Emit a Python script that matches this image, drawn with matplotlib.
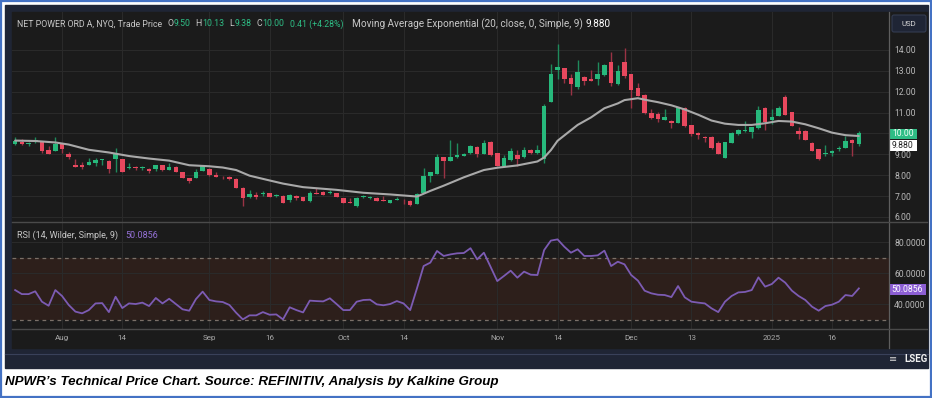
import matplotlib
matplotlib.use('Agg')
import matplotlib.pyplot as plt
from matplotlib.patches import Rectangle, FancyBboxPatch
import numpy as np

# ---------------- data ----------------
opens = [9.48, 9.61, 9.50, 9.58, 9.62, 9.21, 9.15, 9.50, 9.00, 8.51,
         8.51, 8.51, 8.57, 8.73, 8.70, 8.79, 8.76, 8.36, 8.38, 8.36,
         8.31, 8.28, 8.47, 8.25, 8.41, 8.14, 7.87, 7.87, 8.20, 8.31,
         8.01, 7.97, 7.93, 7.84, 7.40, 6.94, 7.07, 7.10, 7.15, 6.99,
         7.01, 6.81, 6.99, 6.94, 6.75, 7.13, 7.21, 7.17, 7.13, 6.91,
         6.74, 6.51, 6.94, 6.89, 6.91, 6.83, 6.67, 6.80, 6.82, 6.78,
         6.62, 7.16, 7.96, 8.06, 8.86, 8.68, 8.89, 8.94, 9.05, 9.35,
         9.02, 9.61, 9.05, 8.46, 8.73, 8.99, 8.86, 9.23, 9.05, 8.76,
         11.53, 13.04, 13.12, 12.68, 12.24, 12.72, 12.59, 12.63, 12.80, 13.41,
         12.36, 13.41, 12.85, 12.16, 11.84, 10.97, 10.92, 10.65, 10.61, 10.52,
         11.22, 10.39, 10.01, 9.85, 9.85, 9.53, 8.84, 9.56, 9.96, 10.14,
         10.09, 10.25, 11.24, 10.65, 10.85, 11.73, 11.01, 10.14, 10.14, 9.56,
         9.24, 9.02, 9.08, 9.26, 9.32, 9.69, 9.50]
highs = [9.82, 9.75, 9.59, 9.82, 9.64, 9.40, 9.82, 9.56, 9.10, 8.76,
         8.65, 8.84, 8.81, 8.76, 8.72, 9.32, 8.78, 8.57, 8.46, 8.44,
         8.34, 8.49, 8.49, 8.60, 8.43, 8.16, 7.89, 8.28, 8.49, 8.33,
         8.17, 7.98, 7.95, 7.86, 7.42, 7.29, 7.21, 7.25, 7.17, 7.08,
         7.03, 7.10, 7.05, 6.96, 7.23, 7.37, 7.23, 7.29, 7.15, 6.93,
         6.89, 6.96, 7.05, 7.00, 6.94, 7.02, 6.83, 6.94, 6.85, 6.80,
         7.14, 8.35, 8.16, 9.02, 8.88, 9.69, 9.56, 9.05, 9.45, 9.40,
         9.69, 9.63, 9.07, 8.97, 9.29, 9.21, 9.37, 9.26, 9.45, 11.41,
         13.31, 14.29, 13.14, 12.85, 13.52, 12.76, 13.04, 13.44, 13.31, 13.89,
         13.28, 14.08, 12.87, 12.43, 11.89, 11.16, 11.05, 11.17, 10.63, 11.28,
         11.27, 10.41, 10.09, 9.88, 9.88, 9.66, 9.61, 10.09, 10.20, 10.60,
         10.33, 11.32, 11.27, 11.16, 11.32, 11.84, 11.05, 10.33, 10.16, 9.61,
         9.27, 9.45, 9.21, 9.40, 9.88, 9.72, 10.13]
lows = [9.47, 9.46, 9.40, 9.56, 9.05, 9.02, 9.14, 9.08, 8.76, 8.38,
        8.32, 8.49, 8.46, 8.49, 8.12, 8.17, 8.14, 8.28, 8.25, 8.27,
        8.12, 8.20, 8.22, 8.24, 8.14, 7.85, 7.64, 7.85, 8.18, 7.97,
        7.90, 7.80, 7.79, 7.37, 6.54, 6.92, 6.85, 7.02, 6.95, 6.97,
        6.67, 6.74, 6.80, 6.75, 6.73, 7.08, 7.03, 7.09, 6.95, 6.67,
        6.68, 6.50, 6.92, 6.86, 6.76, 6.77, 6.65, 6.79, 6.62, 6.54,
        6.60, 7.14, 7.69, 8.04, 7.88, 8.66, 8.81, 8.92, 9.02, 8.86,
        9.00, 8.93, 8.42, 8.40, 8.70, 8.44, 8.84, 9.02, 9.00, 8.60,
        11.50, 12.60, 12.40, 11.85, 12.11, 12.32, 12.50, 12.32, 12.76, 12.28,
        12.34, 12.64, 11.21, 11.78, 10.95, 10.68, 10.55, 10.63, 10.25, 10.50,
        10.33, 9.88, 9.72, 9.61, 9.24, 9.00, 8.82, 9.53, 9.94, 10.09,
        9.77, 10.23, 10.17, 10.45, 10.83, 10.87, 10.36, 9.72, 9.67, 9.15,
        8.74, 8.92, 8.92, 9.18, 9.30, 8.92, 9.38]
closes = [9.64, 9.48, 9.52, 9.70, 9.18, 9.03, 9.51, 9.27, 8.86, 8.40,
          8.38, 8.62, 8.73, 8.76, 8.28, 9.02, 8.16, 8.38, 8.33, 8.38,
          8.19, 8.47, 8.24, 8.41, 8.16, 7.87, 7.71, 8.14, 8.43, 7.99,
          7.93, 7.95, 7.81, 7.39, 6.91, 7.10, 6.94, 7.13, 6.97, 7.05,
          6.69, 7.07, 6.91, 6.77, 7.13, 7.09, 7.05, 7.21, 6.97, 6.69,
          6.69, 6.91, 7.02, 6.97, 6.78, 6.78, 6.81, 6.88, 6.80, 6.56,
          7.10, 7.96, 8.14, 8.89, 8.70, 8.89, 8.99, 9.02, 9.40, 9.02,
          9.56, 8.95, 8.44, 8.84, 9.16, 8.79, 9.21, 9.05, 9.21, 11.32,
          12.83, 13.20, 12.61, 12.37, 12.93, 12.53, 12.51, 12.85, 13.28, 12.40,
          12.99, 12.77, 12.08, 11.80, 10.97, 10.73, 10.68, 10.81, 10.49, 11.25,
          10.37, 9.96, 9.93, 9.77, 9.29, 9.02, 9.59, 10.01, 10.17, 10.18,
          10.31, 11.13, 10.55, 10.77, 11.22, 10.89, 10.38, 9.98, 9.69, 9.18,
          8.76, 9.08, 9.15, 9.32, 9.64, 9.56, 10.00]

ema_idx = [0, 3, 6, 8, 11, 14, 17, 20, 23, 26, 29, 31, 33, 35, 38, 40, 43, 48, 52, 56,
           60, 62, 64, 67, 70, 72, 75, 78, 79, 80, 81, 84, 86, 88, 90, 91, 93, 94, 96, 98,
           100, 102, 104, 106, 108, 110, 112, 114, 116, 118, 120, 122, 124, 126]
ema_val = [9.66, 9.64, 9.57, 9.47, 9.22, 9.09, 8.92, 8.80, 8.70, 8.48, 8.43, 8.37, 8.25, 7.98,
           7.75, 7.60, 7.43, 7.30, 7.16, 7.08, 6.98, 7.25, 7.50, 7.90, 8.25, 8.36, 8.47, 8.66,
           8.85, 9.20, 9.65, 10.41, 10.77, 11.21, 11.44, 11.60, 11.69, 11.62, 11.50, 11.35,
           11.15, 10.90, 10.62, 10.47, 10.41, 10.41, 10.49, 10.60, 10.57, 10.44, 10.25, 10.04,
           9.92, 9.88]

rsi = [49.0, 46.4, 46.4, 48.2, 41.5, 38.9, 49.0, 45.2, 39.4, 35.1,
       34.0, 36.1, 40.4, 40.6, 34.8, 44.7, 37.4, 40.4, 40.0, 40.9,
       38.7, 43.9, 40.4, 43.4, 40.0, 36.6, 35.7, 43.2, 48.0, 42.6,
       41.7, 41.3, 39.4, 34.4, 30.1, 32.7, 32.7, 34.8, 33.1, 33.3,
       30.1, 37.9, 36.1, 34.6, 42.2, 41.9, 41.7, 43.7, 40.0, 36.1,
       36.1, 41.5, 42.6, 42.8, 39.8, 39.2, 40.0, 41.9, 40.4, 36.1,
       50.0, 64.5, 66.7, 74.2, 71.0, 72.0, 72.7, 72.9, 76.0, 68.8,
       73.1, 64.0, 54.8, 58.1, 61.5, 57.0, 60.9, 58.9, 58.7, 74.8,
       80.9, 81.7, 77.0, 73.1, 75.3, 71.0, 71.0, 71.4, 74.4, 64.5,
       67.3, 65.6, 58.7, 55.1, 48.6, 46.9, 46.0, 45.8, 44.5, 51.6,
       44.3, 41.5, 40.9, 40.4, 37.2, 34.8, 41.5, 45.2, 47.5, 47.8,
       49.0, 57.2, 51.2, 52.9, 57.0, 53.8, 48.6, 45.2, 42.6, 38.3,
       35.7, 38.7, 39.6, 41.5, 45.8, 45.2, 50.0856]

x_tick_idx = [7, 16, 29, 38, 49, 58, 72, 81, 92, 101, 113, 122]
x_tick_labels = ['Aug', '14', 'Sep', '16', 'Oct', '14', 'Nov', '14', 'Dec', '13', '2025', '16']
price_ticks = [6, 7, 8, 9, 10, 11, 12, 13, 14]
rsi_ticks = [40, 60, 80]

header_main = 'NET POWER ORD A, NYQ, Trade Price'
ohlc_labels = ['O', 'H', 'L', 'C']
ohlc_values = ['9.50', '10.13', '9.38', '10.00']
change_text = '0.41 (+4.28%)'
ema_title = 'Moving Average Exponential (20, close, 0, Simple, 9)'
ema_last = '9.880'
rsi_title = 'RSI (14, Wilder, Simple, 9)'
rsi_last = '50.0856'
last_price = '10.00'
caption = 'NPWR\u2019s Technical Price Chart. Source: REFINITIV, Analysis by Kalkine Group'

# ---------------- styling ----------------
GREEN = '#27b97c'
GREEN_W = '#1f8a5c'
RED = '#e8485e'
RED_W = '#9a3344'
BG = '#1b1b1b'
NAVY = '#1f2535'
GRID = '#2a2a2a'
TXT = '#b9b9b9'
PURPLE = '#7c5bb3'
FONT = ['Roboto', 'DejaVu Sans']
plt.rcParams['font.family'] = FONT

W, H = 932, 398
fig = plt.figure(figsize=(W / 100, H / 100), dpi=100)
fig.patch.set_facecolor('white')
renderer = fig.canvas.get_renderer()


def box(x0, y0, x1, y1):
    return [x0 / W, 1 - y1 / H, (x1 - x0) / W, (y1 - y0) / H]


bg = fig.add_axes([0, 0, 1, 1])
bg.set_xlim(0, W)
bg.set_ylim(H, 0)
bg.axis('off')
bg.add_patch(Rectangle((5, 5), 923, 363, color=NAVY))
bg.add_patch(Rectangle((12, 12), 915, 336, color=BG))

XL = (-0.47, 130.5)
n = len(closes)
xs = np.arange(n)

# ---------------- price panel ----------------
ax = fig.add_axes(box(12, 12, 889, 222))
ax.set_facecolor(BG)
ax.set_xlim(*XL)
ax.set_ylim(5.76, 15.82)
for s in ax.spines.values():
    s.set_visible(False)
ax.set_yticks(price_ticks)
# the 10.00 tick label sits under the last-price box in the reference
ax.set_yticklabels(['' if v == 10 else f'{v:.2f}' for v in price_ticks])
ax.yaxis.tick_right()
ax.tick_params(axis='y', length=0, pad=3.8, labelsize=6.2, labelcolor=TXT)
ax.set_xticks(x_tick_idx)
ax.tick_params(axis='x', length=0, labelbottom=False)
ax.grid(True, color=GRID, lw=0.8)
ax.set_axisbelow(True)

o = np.array(opens); c = np.array(closes); hi = np.array(highs); lo = np.array(lows)
up = c >= o
body_h = np.maximum(np.abs(c - o), 0.025)
body_b = np.minimum(o, c)
ax.vlines(xs[up], lo[up], hi[up], color=GREEN_W, lw=1.0, zorder=2)
ax.vlines(xs[~up], lo[~up], hi[~up], color=RED_W, lw=1.0, zorder=2)
ax.bar(xs[up], body_h[up], bottom=body_b[up], width=0.68, color=GREEN, zorder=3, lw=0)
ax.bar(xs[~up], body_h[~up], bottom=body_b[~up], width=0.68, color=RED, zorder=3, lw=0)
ax.plot(ema_idx, ema_val, color='#a9a9a9', lw=1.5, zorder=4, solid_capstyle='round')

# ---------------- RSI panel ----------------
ar = fig.add_axes(box(12, 222, 889, 329))
ar.set_facecolor(BG)
ar.set_xlim(*XL)
ar.set_ylim(23.9, 92.9)
for s in ar.spines.values():
    s.set_visible(False)
ar.axhspan(30, 70, color='#2d1f1b', zorder=0.5, lw=0)
ar.axhline(70, color='#7a7068', lw=0.9, ls=(0, (3, 3)), zorder=1)
ar.axhline(30, color='#7a7068', lw=0.9, ls=(0, (3, 3)), zorder=1)
ar.set_yticks(rsi_ticks)
ar.set_yticklabels([f'{v:.4f}' for v in rsi_ticks])
ar.yaxis.tick_right()
ar.tick_params(axis='y', length=0, pad=3.8, labelsize=6.2, labelcolor=TXT)
ar.set_xticks(x_tick_idx)
ar.set_xticklabels(x_tick_labels)
ar.tick_params(axis='x', length=0, pad=4.6, labelsize=5.8, labelcolor='#a8a8a8')
ar.grid(True, color=GRID, lw=0.8)
ar.set_axisbelow(True)
ar.plot(xs, rsi, color=PURPLE, lw=1.3, zorder=3)

# ---------------- overlay: separators, labels, header ----------------
ov = fig.add_axes([0, 0, 1, 1])
ov.set_xlim(0, W)
ov.set_ylim(H, 0)
ov.axis('off')
ov.patch.set_alpha(0)
ov.plot([889, 889], [12, 348], color='#5e5e5e', lw=0.9)
ov.plot([12, 927], [222, 222], color='#4a4a4a', lw=1.0)
ov.plot([12, 927], [329, 329], color='#4a4a4a', lw=1.0)
ov.plot([5, 928], [354, 354], color='#39415a', lw=0.8)

# USD box
ov.add_patch(FancyBboxPatch((892, 15), 34, 17, boxstyle='round,pad=0,rounding_size=2',
                            fc='#1f2535', ec='#343c50', lw=0.8))
ov.text(909, 23.5, 'USD', color='#d8d8d8', fontsize=5.6, ha='center', va='center')

# last price / ema / rsi boxes
ov.add_patch(Rectangle((889, 128.5), 28, 10.5, fc='#2ebd85', ec='none'))
ov.text(903, 133.8, last_price, color='#f4fff8', fontsize=6.2, ha='center', va='center')
ov.add_patch(Rectangle((889, 140), 28, 11, fc='white', ec='none'))
ov.text(903, 145.5, ema_last, color='#222222', fontsize=6.2, ha='center', va='center')
ov.add_patch(Rectangle((889, 284), 37, 10.5, fc='#8c5fd4', ec='none'))
ov.text(907.5, 289.3, rsi_last, color='white', fontsize=6.2, ha='center', va='center')


def fit(txt, x, y, width, base=10, **kw):
    t = ov.text(x, y, txt, fontsize=base, **kw)
    wpx = t.get_window_extent(renderer).width
    t.set_fontsize(base * width / wpx)
    return t


def chain(x, y, pieces, fs):
    """pieces: list of (text, color, gap_before)"""
    for txt, col, gap in pieces:
        x += gap
        t = ov.text(x, y, txt, color=col, fontsize=fs, ha='left', va='center')
        x += t.get_window_extent(renderer).width
    return x


HY = 24
hdr = fit(header_main, 17, HY, 145, color='#c8c8c8', ha='left', va='center')
fs = hdr.get_fontsize()
pieces = []
for L, V in zip(ohlc_labels, ohlc_values):
    pieces.append((L, '#c8c8c8', 5))
    pieces.append((V, '#2ebd85', 0.5))
pieces.append((change_text, '#2ebd85', 5))
chain(162, HY, pieces, fs)

et = fit(ema_title, 352, HY, 229, color='#c8c8c8', ha='left', va='center')
ov.text(586, HY, ema_last, color='#ffffff', fontsize=et.get_fontsize(), ha='left', va='center')

rt = fit(rsi_title, 17, 235, 101, color='#c8c8c8', ha='left', va='center')
ov.text(125, 235, rsi_last, color='#9470d6', fontsize=rt.get_fontsize(), ha='left', va='center')

# LSEG mark
ov.text(928, 359, 'LSEG', color='#f0f0f0', fontsize=7, fontweight='bold', ha='right', va='center')
ov.text(893, 359, '\u2261', color='#d0d0d0', fontsize=7, ha='center', va='center')

# caption
fit(caption, 5, 381.5, 493, color='black', ha='left', va='center',
    fontweight='bold', fontstyle='italic', family=['Liberation Sans', 'DejaVu Sans'])

# outer blue border
ov.add_patch(Rectangle((0.8, 0.8), W - 1.6, H - 1.6, fill=False, ec='#4472c4', lw=1.6))

fig.savefig('out.png', dpi=100, facecolor='white')
